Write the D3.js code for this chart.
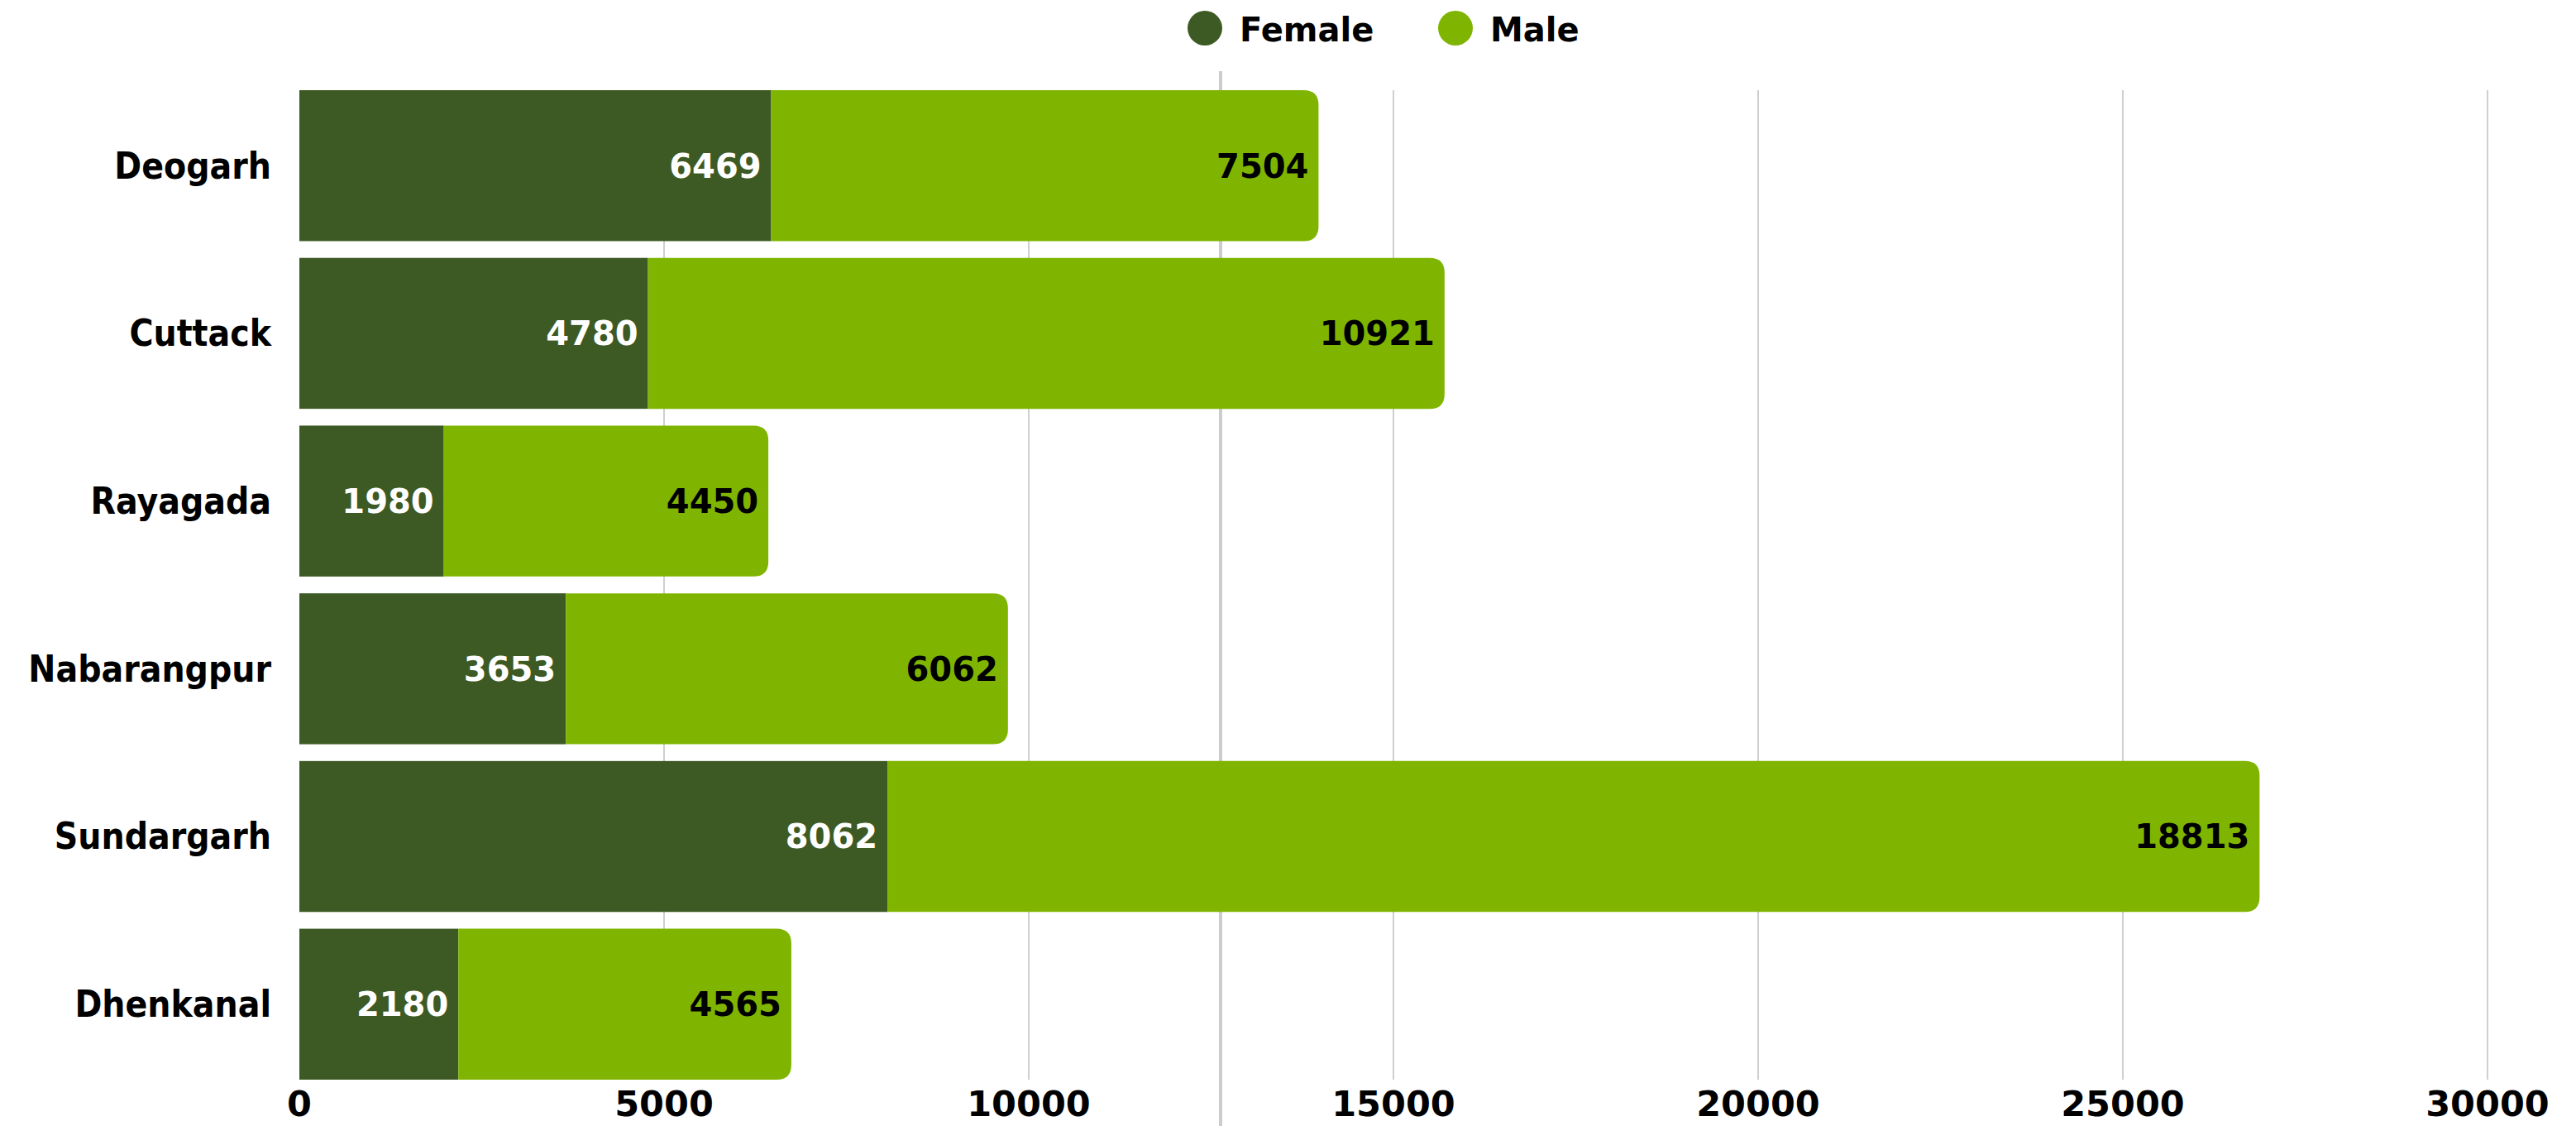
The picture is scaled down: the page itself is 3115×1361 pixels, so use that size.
<!DOCTYPE html>
<html>
<head>
<meta charset="utf-8">
<script src="https://cdn.jsdelivr.net/npm/d3@7"></script>
<style>
  html, body { margin: 0; padding: 0; background: #fff; }
  svg text { font-family: "DejaVu Sans", sans-serif; font-weight: bold; }
  svg text.cond { font-family: "DejaVu Sans Condensed", "DejaVu Sans", sans-serif; font-stretch: condensed; }
</style>
</head>
<body>
<svg id="chart"></svg>
<script>
// ---- data ----
const districts = ["Deogarh", "Cuttack", "Rayagada", "Nabarangpur", "Sundargarh", "Dhenkanal"];
const female = [6469, 4780, 1980, 3653, 8062, 2180];
const male = [7504, 10921, 4450, 6062, 18813, 4565];
const seriesNames = ["Female", "Male"];
const seriesColors = ["#3e5a24", "#7fb500"];
const xTicks = [0, 5000, 10000, 15000, 20000, 25000, 30000];
const strayLineValue = 12630;

const W = 3115, H = 1361;
const svg = d3.select('#chart').attr('width', W).attr('height', H);

// scales
const x = d3.scaleLinear().domain([0, 30000]).range([362, 3008]);
const y = d3.scaleBand().domain(districts).range([109, 1305]).paddingInner(0.1).paddingOuter(0);

// grid lines
svg.append('g').selectAll('line')
    .data(xTicks.slice(1))
    .join('line')
    .attr('x1', d => x(d)).attr('x2', d => x(d))
    .attr('y1', 109).attr('y2', 1305)
    .attr('stroke', '#cfcfcf')
    .attr('stroke-width', 2);

// odd marker line that runs off the plot
svg.append('line')
    .attr('x1', x(strayLineValue)).attr('x2', x(strayLineValue))
    .attr('y1', 86).attr('y2', H)
    .attr('stroke', '#cccccc')
    .attr('stroke-width', 4);

// x tick labels
svg.append('g').selectAll('text')
    .data(xTicks)
    .join('text')
    .attr('x', d => x(d))
    .attr('y', 1349)
    .attr('text-anchor', 'middle')
    .style('font-size', '43px')
    .attr('fill', '#000')
    .text(d => d);

// category labels
svg.append('g').selectAll('text')
    .data(districts)
    .join('text')
    .attr('class', 'cond')
    .attr('x', 328)
    .attr('y', d => y(d) + y.bandwidth() / 2)
    .attr('dy', '0.35em')
    .attr('text-anchor', 'end')
    .style('font-size', '44px')
    .attr('fill', '#000')
    .text(d => d);

const r = 18;
const bh = y.bandwidth();

// female segments
svg.append('g').selectAll('rect')
    .data(districts)
    .join('rect')
    .attr('x', x(0))
    .attr('y', d => y(d))
    .attr('width', (d, i) => x(female[i]) - x(0))
    .attr('height', bh)
    .attr('fill', seriesColors[0]);

// male segments, rounded on the right
svg.append('g').selectAll('path')
    .data(districts)
    .join('path')
    .attr('d', (d, i) => {
        const x0 = x(female[i]), x1 = x(female[i] + male[i]);
        const y0 = y(d), y1 = y(d) + bh;
        return `M${x0},${y0}H${x1 - r}Q${x1},${y0} ${x1},${y0 + r}V${y1 - r}Q${x1},${y1} ${x1 - r},${y1}H${x0}Z`;
    })
    .attr('fill', seriesColors[1]);

// value labels
svg.append('g').selectAll('text')
    .data(districts)
    .join('text')
    .attr('x', (d, i) => x(female[i]) - 12)
    .attr('y', d => y(d) + bh / 2)
    .attr('dy', '0.36em')
    .attr('text-anchor', 'end')
    .style('font-size', '40px')
    .attr('fill', '#fff')
    .text((d, i) => female[i]);

svg.append('g').selectAll('text')
    .data(districts)
    .join('text')
    .attr('x', (d, i) => x(female[i] + male[i]) - 12)
    .attr('y', d => y(d) + bh / 2)
    .attr('dy', '0.36em')
    .attr('text-anchor', 'end')
    .style('font-size', '40px')
    .attr('fill', '#000')
    .text((d, i) => male[i]);

// legend
const legendX = [1457, 1760];
const lg = svg.append('g').selectAll('g')
    .data(seriesNames)
    .join('g')
    .attr('transform', (d, i) => `translate(${legendX[i]},34)`);
lg.append('circle').attr('r', 21).attr('fill', (d, i) => seriesColors[i]);
lg.append('text')
    .attr('x', 42)
    .attr('dy', '0.4em')
    .style('font-size', '40px')
    .attr('fill', '#000')
    .text(d => d);
</script>
</body>
</html>
